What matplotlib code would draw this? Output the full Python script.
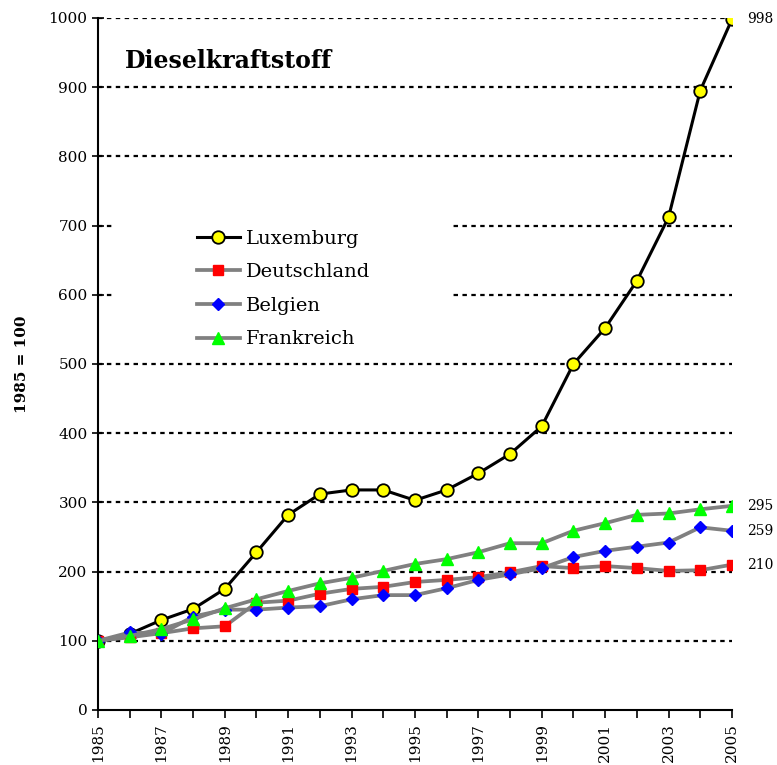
import matplotlib
matplotlib.use('Agg')
import matplotlib.pyplot as plt
from matplotlib.patches import Rectangle

plt.rcParams['font.family'] = ['DejaVu Serif']

years = list(range(1985, 2006))
luxemburg = [100, 110, 130, 146, 175, 228, 282, 312, 318, 318, 303,
             318, 342, 370, 410, 500, 552, 620, 712, 895, 998]
deutschland = [100, 105, 111, 118, 121, 155, 158, 168, 175, 178, 185,
               188, 192, 199, 208, 205, 208, 205, 201, 202, 210]
belgien = [100, 112, 110, 135, 145, 145, 148, 150, 160, 166, 166,
           176, 188, 196, 205, 221, 230, 236, 242, 264, 259]
frankreich = [100, 107, 117, 131, 147, 160, 172, 183, 191, 201, 211,
              218, 228, 241, 241, 259, 270, 282, 284, 290, 295]

fig = plt.figure(figsize=(7.77, 7.65), dpi=100)
ax = fig.add_axes([0.1261, 0.0719, 0.942 - 0.1261, 0.9765 - 0.0719])

# gridlines
for v in range(100, 1001, 100):
    ax.axhline(v, color='black', lw=1.6, ls=(0, (2, 2)), zorder=1)

# white box behind the legend hides part of the gridlines
ax.add_patch(Rectangle((1985.55, 520), 10.55, 200, facecolor='white',
                       edgecolor='none', zorder=2))

ax.plot(years, luxemburg, color='black', lw=2.2, marker='o', ms=9,
        mfc='#ffff00', mec='black', mew=1.3, label='Luxemburg', zorder=3)
ax.plot(years, deutschland, color='#808080', lw=2.7, marker='s', ms=7,
        mfc='#ff0000', mec='#ff0000', label='Deutschland', zorder=4)
ax.plot(years, belgien, color='#808080', lw=2.7, marker='D', ms=6,
        mfc='#0000ff', mec='#0000ff', label='Belgien', zorder=4)
ax.plot(years, frankreich, color='#808080', lw=2.7, marker='^', ms=8,
        mfc='#00ff00', mec='#00ff00', label='Frankreich', zorder=4)

ax.set_xlim(1985, 2005)
ax.set_ylim(0, 1000)
ax.set_yticks(range(0, 1001, 100))
ax.set_xticks(years)
ax.set_xticklabels([str(y) if (y - 1985) % 2 == 0 else '' for y in years],
                   rotation=90, fontsize=11)
ax.tick_params(axis='y', direction='inout', length=8, width=1.2, labelsize=11)
ax.tick_params(axis='x', direction='out', length=6, width=1.2)
for s in ['top', 'right']:
    ax.spines[s].set_visible(False)
for s in ['left', 'bottom']:
    ax.spines[s].set_linewidth(1.5)

ax.set_ylabel('1985 = 100', fontweight='bold', fontsize=11, labelpad=14)

ax.text(0.042, 0.955, 'Dieselkraftstoff', transform=ax.transAxes,
        fontsize=17, fontweight='bold', va='top')

for vals in [luxemburg, frankreich, belgien, deutschland]:
    ax.annotate(str(vals[-1]), xy=(years[-1], vals[-1]), xytext=(11, 0),
                textcoords='offset points', va='center', fontsize=10,
                annotation_clip=False)

leg = ax.legend(loc='upper left', bbox_to_anchor=(0.156, 0.694), fontsize=14,
                frameon=False, borderpad=0, borderaxespad=0,
                handlelength=2.2, handletextpad=0.3, labelspacing=0.8)
leg.set_zorder(5)

fig.savefig('out.png', dpi=100)
